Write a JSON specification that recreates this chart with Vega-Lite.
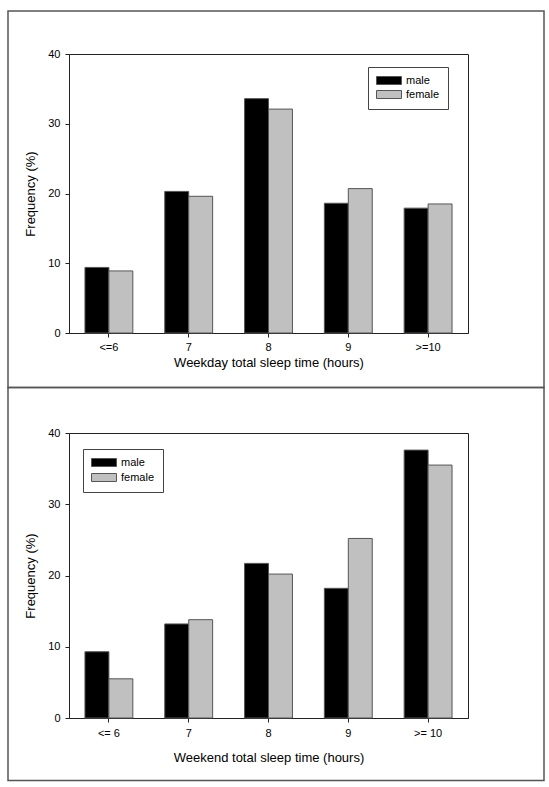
{
  "$schema": "https://vega.github.io/schema/vega-lite/v6.json",
  "autosize": {"type": "pad"},
  "padding": {"left": 6, "top": 9, "right": 6, "bottom": 7},
  "background": "#ffffff",
  "datasets": {
    "weekday": [
      {"hours": "<=6", "sex": "male", "freq": 9.4},
      {"hours": "<=6", "sex": "female", "freq": 8.9},
      {"hours": "7", "sex": "male", "freq": 20.3},
      {"hours": "7", "sex": "female", "freq": 19.6},
      {"hours": "8", "sex": "male", "freq": 33.6},
      {"hours": "8", "sex": "female", "freq": 32.1},
      {"hours": "9", "sex": "male", "freq": 18.6},
      {"hours": "9", "sex": "female", "freq": 20.7},
      {"hours": ">=10", "sex": "male", "freq": 17.9},
      {"hours": ">=10", "sex": "female", "freq": 18.5}
    ],
    "weekend": [
      {"hours": "<= 6", "sex": "male", "freq": 9.3},
      {"hours": "<= 6", "sex": "female", "freq": 5.5},
      {"hours": "7", "sex": "male", "freq": 13.2},
      {"hours": "7", "sex": "female", "freq": 13.8},
      {"hours": "8", "sex": "male", "freq": 21.7},
      {"hours": "8", "sex": "female", "freq": 20.2},
      {"hours": "9", "sex": "male", "freq": 18.2},
      {"hours": "9", "sex": "female", "freq": 25.2},
      {"hours": ">= 10", "sex": "male", "freq": 37.6},
      {"hours": ">= 10", "sex": "female", "freq": 35.5}
    ],
    "frame": [{"id": 1}]
  },
  "spacing": 100,
  "bounds": "flush",
  "vconcat": [
    {
      "width": 399,
      "height": 279,
      "layer": [
        {
          "data": {"name": "frame"},
          "mark": {"type": "rect", "fill": "transparent", "stroke": "#555555", "strokeWidth": 1.5},
          "encoding": {"x": {"value": -61}, "x2": {"value": 475}, "y": {"value": -43}, "y2": {"value": 333.5}}
        },
        {
          "data": {"name": "weekday"},
          "mark": {"type": "bar", "stroke": "#555555", "strokeWidth": 1},
          "encoding": {
            "x": {
              "field": "hours", "type": "nominal",
              "sort": ["<=6", "7", "8", "9", ">=10"],
              "scale": {"paddingInner": 0.4, "paddingOuter": 0.2},
              "axis": {"title": "Weekday total sleep time (hours)", "labelPadding": 4, "titlePadding": 4}
            },
            "xOffset": {"field": "sex", "type": "nominal", "sort": ["male", "female"], "scale": {"paddingInner": 0, "paddingOuter": 0}},
            "y": {
              "field": "freq", "type": "quantitative",
              "scale": {"domain": [0, 40], "nice": false},
              "axis": {"values": [0, 10, 20, 30, 40], "title": "Frequency (%)"}
            },
            "color": {
              "field": "sex", "type": "nominal", "sort": ["male", "female"],
              "scale": {"domain": ["male", "female"], "range": ["#000000", "#c0c0c0"]},
              "legend": {"title": null, "legendX": 299, "legendY": 13, "rowPadding": 1}
            }
          }
        }
      ]
    },
    {
      "width": 399,
      "height": 285,
      "layer": [
        {
          "data": {"name": "frame"},
          "mark": {"type": "rect", "fill": "transparent", "stroke": "#555555", "strokeWidth": 1.5},
          "encoding": {"x": {"value": -61}, "x2": {"value": 475}, "y": {"value": -45.5}, "y2": {"value": 347.5}}
        },
        {
          "data": {"name": "weekend"},
          "mark": {"type": "bar", "stroke": "#555555", "strokeWidth": 1},
          "encoding": {
            "x": {
              "field": "hours", "type": "nominal",
              "sort": ["<= 6", "7", "8", "9", ">= 10"],
              "scale": {"paddingInner": 0.4, "paddingOuter": 0.2},
              "axis": {"title": "Weekend total sleep time (hours)", "labelPadding": 5, "titlePadding": 13}
            },
            "xOffset": {"field": "sex", "type": "nominal", "sort": ["male", "female"], "scale": {"paddingInner": 0, "paddingOuter": 0}},
            "y": {
              "field": "freq", "type": "quantitative",
              "scale": {"domain": [0, 40], "nice": false},
              "axis": {"values": [0, 10, 20, 30, 40], "title": "Frequency (%)"}
            },
            "color": {
              "field": "sex", "type": "nominal", "sort": ["male", "female"],
              "scale": {"domain": ["male", "female"], "range": ["#000000", "#c0c0c0"]},
              "legend": {"title": null, "legendX": 14, "legendY": 16, "rowPadding": 2}
            }
          }
        }
      ]
    }
  ],
  "resolve": {"scale": {"color": "independent", "x": "independent"}, "legend": {"color": "independent"}},
  "config": {
    "font": "Liberation Sans",
    "view": {"stroke": "#222222", "strokeWidth": 1},
    "axis": {
      "grid": false,
      "domainColor": "#222222",
      "tickColor": "#222222",
      "tickSize": 4,
      "labelFont": "Liberation Sans",
      "labelFontSize": 11,
      "labelColor": "#000000",
      "titleFont": "Liberation Sans",
      "titleFontSize": 13,
      "titleFontWeight": "normal",
      "titleColor": "#000000"
    },
    "axisX": {"labelAngle": 0},
    "axisY": {"labelPadding": 5, "titlePadding": 10},
    "legend": {
      "orient": "none",
      "padding": 8,
      "strokeColor": "#444444",
      "fillColor": "#ffffff",
      "labelFont": "Liberation Sans",
      "labelFontSize": 11,
      "labelColor": "#000000",
      "symbolType": "M-1,-0.8H4V0.8H-1Z",
      "symbolSize": 100,
      "symbolStrokeWidth": 1,
      "symbolStrokeColor": "#555555",
      "labelOffset": 19,
      "rowPadding": 1
    }
  }
}
